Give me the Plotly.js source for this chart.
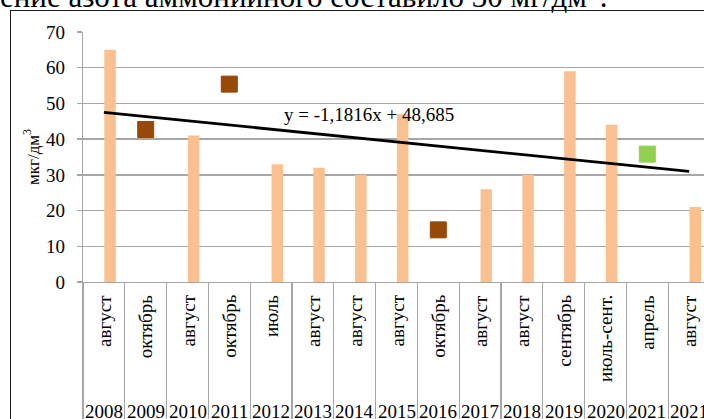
<!DOCTYPE html>
<html>
<head>
<meta charset="utf-8">
<script src="https://cdn.plot.ly/plotly-3.0.1.min.js"></script>
<style>
  html, body { margin: 0; padding: 0; background: #fff; overflow: hidden; width: 704px; height: 419px; }
  #lead { position: absolute; left: 0; top: -28px; font-family: "Liberation Serif", serif; font-size: 31px;
          line-height: 31px; white-space: nowrap; color: #000; }
  #chart { position: absolute; left: 0; top: 0; width: 720px; height: 419px; }
  #frame { position: absolute; left: 10px; top: 10px; width: 800px; height: 500px;
           border: 1.5px solid #1a1a1a; pointer-events: none; }
</style>
</head>
<body>
<div id="lead">ение азота аммонийного составило 30 мг/дм<sup>3</sup>.</div>
<div id="chart"></div>
<div id="frame"></div>
<script>
// Sampling years and months (two-level category axis)
const years  = ['2008', '2009', '2010', '2011', '2012', '2013', '2014', '2015',
                '2016', '2017', '2018', '2019', '2020', '2021', '2021'];
const months = ['август', 'октябрь', 'август', 'октябрь', 'июль', 'август', 'август', 'август',
                'октябрь', 'август', 'август', 'сентябрь', 'июль-сент.', 'апрель', 'август'];

// Concentrations, мкг/дм3
const summerValues = [65, null, 41, null, 33, 32, 30, 47, null, 26, 30, 59, 44, null, 21];
const autumnValues = [null, 42.7, null, 55.4, null, null, null, null, 14.6, null, null, null, null, null, null];
const springValues = [null, null, null, null, null, null, null, null, null, null, null, null, null, 35.8, null];

// Linear trend over the category index (1..15)
const trendSlope = -1.1816;
const trendIntercept = 48.685;
const trendLabel = 'y = -1,1816x + 48,685';

const cats = years.map((y, i) => y + ' ' + months[i]);
const n = cats.length;

const grid = '#a6a6a6';
const serif = 'Liberation Serif';

const traces = [
  {
    type: 'bar', x: cats, y: summerValues,
    width: 0.275, offset: 0.01,
    marker: { color: '#fac090', line: { width: 0 } },
    hoverinfo: 'x+y'
  },
  {
    type: 'scatter', mode: 'markers', x: cats, y: autumnValues,
    marker: { symbol: 'square', size: 16, color: '#984807', line: { color: '#984807', width: 1 } },
    hoverinfo: 'x+y'
  },
  {
    type: 'scatter', mode: 'markers', x: cats, y: springValues,
    marker: { symbol: 'square', size: 16, color: '#92d050', line: { color: '#92d050', width: 1 } },
    hoverinfo: 'x+y'
  },
  {
    type: 'scatter', mode: 'lines',
    x: [cats[0], cats[n - 1]],
    y: [trendSlope * 1 + trendIntercept, trendSlope * n + trendIntercept],
    line: { color: '#000', width: 2.75 },
    hoverinfo: 'skip'
  }
];

const annotations = [];
cats.forEach((c, i) => {
  annotations.push({
    xref: 'x', x: c, yref: 'paper', y: -0.044, yanchor: 'top', xanchor: 'center',
    text: months[i], textangle: -90, showarrow: false, font: { family: serif, size: 19, color: '#000' }
  });
  annotations.push({
    xref: 'x', x: c, yref: 'paper', y: -0.518, yanchor: 'middle', xanchor: 'center',
    text: years[i], showarrow: false, font: { family: serif, size: 19, color: '#000' }
  });
});
annotations.push({
  xref: 'paper', x: 0.317, yref: 'y', y: 47, xanchor: 'left', yanchor: 'middle',
  text: trendLabel, showarrow: false, font: { family: serif, size: 19, color: '#000' }
});

const layout = {
  width: 720, height: 419,
  margin: { l: 83, r: 10, t: 32, b: 137 },
  paper_bgcolor: 'rgba(0,0,0,0)', plot_bgcolor: 'rgba(0,0,0,0)',
  showlegend: false,
  font: { family: serif, size: 19, color: '#000' },
  xaxis: {
    type: 'category', categoryorder: 'array', categoryarray: cats, range: [-0.5, n - 0.5],
    showticklabels: false, ticks: 'outside', tickson: 'boundaries', ticklen: 140,
    tickwidth: 1.3, tickcolor: grid, showgrid: false,
    showline: true, linecolor: grid, linewidth: 1.3, zeroline: false, fixedrange: true
  },
  yaxis: {
    range: [0, 70], tick0: 0, dtick: 10, ticks: 'outside', ticklen: 5,
    tickwidth: 1.3, tickcolor: grid, showline: true, linecolor: grid, linewidth: 1.3,
    gridcolor: grid, gridwidth: 1.3, zeroline: false, fixedrange: true,
    ticklabelstandoff: 8,
    tickfont: { family: serif, size: 19, color: '#000' },
    title: { text: 'мкг/дм<sup>3</sup>', standoff: 2, font: { family: serif, size: 17, color: '#000' } }
  },
  annotations: annotations
};

Plotly.newPlot('chart', traces, layout, { staticPlot: true, displayModeBar: false });
</script>
</body>
</html>
